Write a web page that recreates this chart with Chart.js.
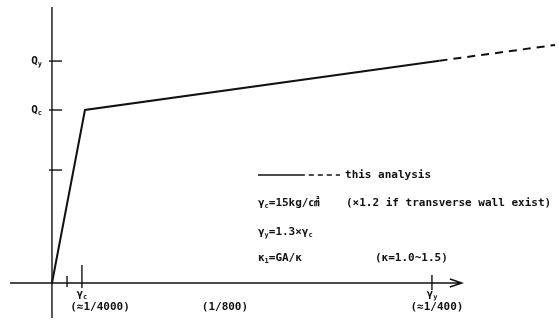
<!DOCTYPE html>
<html>
<head>
<meta charset="utf-8">
<script src="https://cdn.jsdelivr.net/npm/chart.js@4.4.1/dist/chart.umd.min.js"></script>
<style>
  html, body { margin: 0; padding: 0; background: #fff; }
  canvas { display: block; }
</style>
</head>
<body>
<canvas id="skeletonChart" width="559" height="320"></canvas>
<script>
// shear strain in units of 1e-4 rad, shear force normalised by Qc
const solidX = [0, 2.17, 25.5];
const solidY = [0, 1, 1.285];
const dashX = [25.5, 33.1];
const dashY = [1.285, 1.376];

const yTickValues = [0.653, 1, 1.283];
const yTickLabels = ['', 'Q_c', 'Q_y'];
const xTickValues = [0.99, 1.97, 25];
const xTickLabels = ['', 'γ_c', 'γ_y'];

// notes: [text, x, y, align]
const notes = [
    ['this analysis', 19.28, 0.624, 'left'],
    ['γ_c=15kg/㎠', 13.55, 0.462, 'left'],
    ['(×1.2 if transverse wall exist)', 19.34, 0.462, 'left'],
    ['γ_y=1.3×γ_c', 13.55, 0.295, 'left'],
    ['κ_1=GA/κ', 13.55, 0.145, 'left'],
    ['(κ=1.0~1.5)', 21.25, 0.145, 'left'],
    ['(≈1/4000)', 3.16, -0.139, 'center'],
    ['(1/800)', 11.38, -0.139, 'center'],
    ['(≈1/400)', 25.33, -0.139, 'center']
];

const ink = '#111';
const squeeze = 1.0;
const fontFamily = '"DejaVu Sans Mono", "Noto Sans CJK JP", monospace';

function toPoints(xs, ys) {
    return xs.map((x, i) => ({ x: x, y: ys[i] }));
}

// draws "a_b" as a with subscript b (one subscript char per marker)
function drawRich(ctx, text, x, y, align, size) {
    const parts = [];
    for (let i = 0; i < text.length; i++) {
        if (text[i] === '_' && i + 1 < text.length) {
            parts.push({ s: text[i + 1], sub: true });
            i++;
        } else {
            parts.push({ s: text[i], sub: false });
        }
    }
    const subSize = Math.round(size * 0.6);
    ctx.save();
    ctx.translate(x, y);
    ctx.scale(squeeze, 1);
    let total = 0;
    parts.forEach(p => {
        ctx.font = 'bold ' + (p.sub ? subSize : size) + 'px ' + fontFamily;
        p.w = ctx.measureText(p.s).width;
        total += p.w;
    });
    let cx = 0;
    if (align === 'center') cx = -total / 2;
    if (align === 'right') cx = -total;
    ctx.textBaseline = 'middle';
    ctx.textAlign = 'left';
    ctx.fillStyle = ink;
    parts.forEach(p => {
        ctx.font = 'bold ' + (p.sub ? subSize : size) + 'px ' + fontFamily;
        ctx.fillText(p.s, cx, p.sub ? 3 : 0);
        cx += p.w;
    });
    ctx.restore();
}

const framePlugin = {
    id: 'frame',
    beforeDatasetsDraw(chart) {
        const ctx = chart.ctx;
        const xs = chart.scales.x;
        const ys = chart.scales.y;
        const x0 = xs.getPixelForValue(0);
        const y0 = ys.getPixelForValue(0);
        ctx.save();
        ctx.strokeStyle = ink;
        ctx.lineWidth = 1.4;
        // vertical axis
        ctx.beginPath();
        ctx.moveTo(x0, ys.getPixelForValue(1.595));
        ctx.lineTo(x0, ys.getPixelForValue(-0.202));
        ctx.stroke();
        // horizontal axis with arrow
        const xEnd = xs.getPixelForValue(26.97);
        ctx.beginPath();
        ctx.moveTo(xs.getPixelForValue(-2.76), y0);
        ctx.lineTo(xEnd, y0);
        ctx.moveTo(xEnd - 12, y0 - 4);
        ctx.lineTo(xEnd, y0);
        ctx.lineTo(xEnd - 12, y0 + 4);
        ctx.stroke();
        // y ticks
        yTickValues.forEach((v, i) => {
            const py = ys.getPixelForValue(v);
            ctx.beginPath();
            ctx.moveTo(x0 - 3, py);
            ctx.lineTo(x0 + 10, py);
            ctx.stroke();
            if (yTickLabels[i]) drawRich(ctx, yTickLabels[i], x0 - 10, py, 'right', 11);
        });
        // x ticks
        xTickValues.forEach((v, i) => {
            const px = xs.getPixelForValue(v);
            const up = [7, 18, 8][i];
            const down = [4, 5, 7][i];
            ctx.beginPath();
            ctx.moveTo(px, y0 - up);
            ctx.lineTo(px, y0 + down);
            ctx.stroke();
            if (xTickLabels[i]) drawRich(ctx, xTickLabels[i], px, y0 + 11, 'center', 11);
        });
        // legend sample
        const ly = ys.getPixelForValue(0.624);
        ctx.beginPath();
        ctx.moveTo(xs.getPixelForValue(13.55), ly);
        ctx.lineTo(xs.getPixelForValue(16.64), ly);
        ctx.stroke();
        ctx.setLineDash([5, 4]);
        ctx.beginPath();
        ctx.moveTo(xs.getPixelForValue(16.9), ly);
        ctx.lineTo(xs.getPixelForValue(18.95), ly);
        ctx.stroke();
        ctx.setLineDash([]);
        notes.forEach(n => {
            drawRich(ctx, n[0], xs.getPixelForValue(n[1]), ys.getPixelForValue(n[2]), n[3], 11);
        });
        ctx.restore();
    }
};

new Chart(document.getElementById('skeletonChart'), {
    type: 'scatter',
    data: {
        datasets: [{
            data: toPoints(solidX, solidY),
            showLine: true,
            borderColor: ink,
            borderWidth: 2,
            pointRadius: 0
        }, {
            data: toPoints(dashX, dashY),
            showLine: true,
            borderColor: ink,
            borderWidth: 2,
            borderDash: [8, 6],
            pointRadius: 0
        }]
    },
    options: {
        responsive: false,
        animation: false,
        layout: { padding: 0 },
        plugins: { legend: { display: false }, tooltip: { enabled: false } },
        scales: {
            x: { type: 'linear', min: -3.42, max: 33.36, display: false },
            y: { type: 'linear', min: -0.214, max: 1.636, display: false }
        }
    },
    plugins: [framePlugin]
});
</script>
</body>
</html>
